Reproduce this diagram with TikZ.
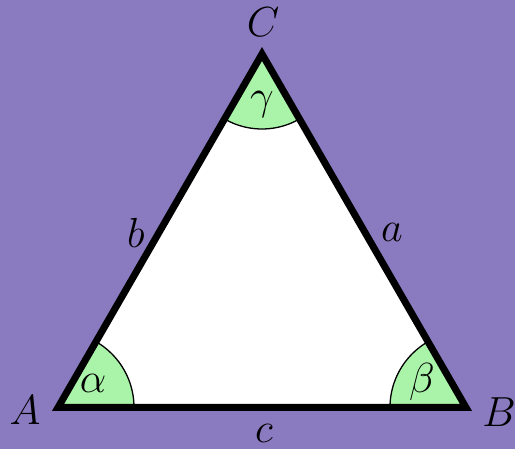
\documentclass[tikz,border=0pt]{standalone}
\definecolor{bgpurple}{HTML}{8A7BC0}
\definecolor{anggreen}{HTML}{AAF4AA}
\begin{document}
\begin{tikzpicture}[x=1pt,y=1pt,
  lbl/.style={font=\Huge, scale=1.69, inner sep=0pt, text=black},
  edge/.style={line width=7pt, line join=miter},
  sector/.style={fill=anggreen, draw=black, line width=1.3pt}]
\fill[bgpurple] (0,0) rectangle (515,449);
\useasboundingbox (0,0) rectangle (515,449);
\coordinate (A) at (58,41.5);
\coordinate (B) at (466,41.5);
\coordinate (C) at (262,395);
\fill[white] (A) -- (B) -- (C) -- cycle;
\begin{scope}
  \clip (A) -- (B) -- (C) -- cycle;
  \filldraw[sector] (A) circle[radius=76];
  \filldraw[sector] (B) circle[radius=76];
  \filldraw[sector] (C) circle[radius=75];
\end{scope}
\draw[edge] (A) -- (B) -- (C) -- cycle;
\node[lbl] (lA) at (25,39) {$A$};
\node[lbl] (lB) at (499,37) {$B$};
\node[lbl] (lC) at (263,427) {$C$};
\node[lbl] (la) at (392,217) {$a$};
\node[lbl] (lb) at (136,216) {$b$};
\node[lbl] (lc) at (264,16) {$c$};
\node[lbl] (lal) at (93,66) {$\alpha$};
\node[lbl] (lbe) at (422,67) {$\beta$};
\node[lbl] (lga) at (262,344) {$\gamma$};
\end{tikzpicture}
\end{document}
